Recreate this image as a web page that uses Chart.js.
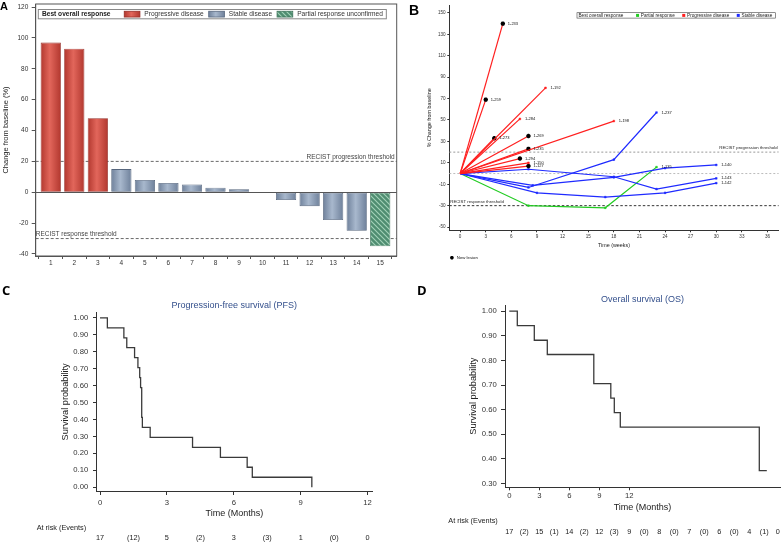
<!DOCTYPE html>
<html>
<head>
<meta charset="utf-8">
<script src="https://cdn.jsdelivr.net/npm/chart.js@4.4.1/dist/chart.umd.min.js"></script>
<style>
    html, body { margin: 0; padding: 0; background: #fff; }
    body { width: 784px; height: 543px; position: relative; overflow: hidden; font-family: "Liberation Sans", Arial, sans-serif; }
    .panel { position: absolute; }
    .tag { position: absolute; font-weight: bold; color: #000; line-height: 1; }
</style>
</head>
<body>
<div class="panel" style="left:0;top:0;width:400px;height:270px"><canvas id="chartA"></canvas></div>
<div class="panel" style="left:400px;top:0;width:384px;height:270px"><canvas id="chartB"></canvas></div>
<div class="panel" style="left:0;top:280px;width:392px;height:263px"><canvas id="chartC"></canvas></div>
<div class="panel" style="left:392px;top:280px;width:392px;height:263px"><canvas id="chartD"></canvas></div>
<div class="tag" style="left:0;top:1px;font-size:11px">A</div>
<div class="tag" style="left:409px;top:3px;font-size:14px">B</div>
<div class="tag" style="left:2px;top:284px;font-size:13px;font-family:'Open Sans',sans-serif">C</div>
<div class="tag" style="left:417px;top:284px;font-size:13px;font-family:'Open Sans',sans-serif">D</div>

<script>
    const FONT = '"Liberation Sans", Arial, sans-serif';

    // A: waterfall, best change from baseline per patient
    const patientA = [1, 2, 3, 4, 5, 6, 7, 8, 9, 10, 11, 12, 13, 14, 15];
    const changeA = [97, 93, 48, 15, 8, 6, 5, 3, 2, 0, -5, -9, -18, -25, -35];
    const responseA = ['PD', 'PD', 'PD', 'SD', 'SD', 'SD', 'SD', 'SD', 'SD', 'SD', 'SD', 'SD', 'SD', 'SD', 'PRu'];
    const yTicksA = [-40, -20, 0, 20, 40, 60, 80, 100, 120];
    const legendKeysA = ['PD', 'SD', 'PRu'];
    const legendNamesA = ['Progressive disease', 'Stable disease', 'Partial response unconfirmed'];
    const thresholdValuesA = [20, -30];
    const thresholdLabelsA = ['RECIST progression threshold', 'RECIST response threshold'];

    // B: spider plot, change over time per patient
    const spiderIds = ['1-233', '1-259', '1-192', '1-284', '1-198', '1-273', '1-269', '1-235', '1-294', '1-150', '1-127',
        '1-237', '1-143', '1-140', '1-142', '1-135'];
    const spiderResp = ['PD', 'PD', 'PD', 'PD', 'PD', 'PD', 'PD', 'PD', 'PD', 'PD', 'PD', 'SD', 'SD', 'SD', 'SD', 'PR'];
    const spiderWeeks = [[0, 5], [0, 3], [0, 10], [0, 7], [0, 18], [0, 4], [0, 8], [0, 8], [0, 7], [0, 8], [0, 8],
        [0, 8, 18, 23], [0, 8, 18, 23, 30], [0, 8.5, 18, 24, 30], [0, 9, 17, 24, 30], [0, 8, 17, 23]];
    const spiderChange = [[0, 140], [0, 69], [0, 80], [0, 51], [0, 49], [0, 33], [0, 35], [0, 23], [0, 14], [0, 10], [0, 7],
        [0, -13, 13, 57], [0, 4, -3, -14.5, -4.5], [0, -11, -3.5, 5, 8], [0, -18, -22, -18, -9], [0, -30, -32, 6]];
    const spiderNewLesion = [true, true, false, false, false, true, true, true, true, false, true, false, false, false, false, false];
    const xTicksB = [0, 3, 6, 9, 12, 15, 18, 21, 24, 27, 30, 33, 36];
    const yTicksB = [-50, -30, -10, 10, 30, 50, 70, 90, 110, 130, 150];
    const legendKeysB = ['PR', 'PD', 'SD'];
    const legendNamesB = ['Partial response', 'Progressive disease', 'Stable disease'];
    const refValuesB = [20, 0, -30];
    const refLabelsB = ['RECIST progression threshold', '', 'RECIST response threshold'];

    // C: progression-free survival
    const pfsTime = [0, 0.33, 1.07, 1.2, 1.55, 1.7, 1.78, 1.82, 1.87, 1.9, 2.25, 4.15, 5.4, 6.6, 6.83, 9.5];
    const pfsSurv = [1, 0.941, 0.882, 0.824, 0.765, 0.706, 0.647, 0.588, 0.412, 0.353, 0.294, 0.235, 0.176, 0.118, 0.059, 0];
    const pfsRiskTimes = [0, 1.5, 3, 4.5, 6, 7.5, 9, 10.5, 12];
    const pfsRisk = ['17', '(12)', '5', '(2)', '3', '(3)', '1', '(0)', '0'];
    const xTicksC = [0, 3, 6, 9, 12];
    const yTicksC = [0, 0.1, 0.2, 0.3, 0.4, 0.5, 0.6, 0.7, 0.8, 0.9, 1];

    // D: overall survival
    const osTime = [0, 0.8, 2.5, 3.8, 8.45, 10.15, 10.5, 11.1, 25.0, 25.75];
    const osSurv = [1, 0.941, 0.882, 0.824, 0.706, 0.647, 0.588, 0.529, 0.353, 0.353];
    const osRiskTimes = [0, 1.5, 3, 4.5, 6, 7.5, 9, 10.5, 12, 13.5, 15, 16.5, 18, 19.5, 21, 22.5, 24, 25.5, 26.85];
    const osRisk = ['17', '(2)', '15', '(1)', '14', '(2)', '12', '(3)', '9', '(0)', '8', '(0)', '7', '(0)', '6', '(0)', '4', '(1)', '0'];
    const xTicksD = [0, 3, 6, 9, 12];
    const yTicksD = [0.3, 0.4, 0.5, 0.6, 0.7, 0.8, 0.9, 1];

    Chart.defaults.font.family = FONT;
    Chart.defaults.color = '#333';
    Chart.defaults.animation = false;
    Chart.defaults.plugins.legend.display = false;
    Chart.defaults.plugins.tooltip.enabled = false;

    function setTicks(arr) {
        return function (scale) { scale.ticks = arr.map(v => ({ value: v })); };
    }

    function hline(ctx, x1, x2, y) {
        ctx.beginPath();
        ctx.moveTo(x1, y);
        ctx.lineTo(x2, y);
        ctx.stroke();
    }

    // ---------- A ----------
    const barShade = { PD: ['#b2382f', '#e2665b', '#962d27'], SD: ['#6f819b', '#a8b8cd', '#56667d'] };
    const hatchBorder = '#3d7259';
    const hatchCanvas = (function () {
        const c = document.createElement('canvas');
        c.width = 5; c.height = 5;
        const g = c.getContext('2d');
        g.fillStyle = '#4f8d71';
        g.fillRect(0, 0, 5, 5);
        g.strokeStyle = '#a3d2b8';
        g.lineWidth = 1.1;
        g.beginPath();
        g.moveTo(0, 0); g.lineTo(5, 5);
        g.moveTo(-1, 4); g.lineTo(1, 6);
        g.moveTo(4, -1); g.lineTo(6, 1);
        g.stroke();
        return c;
    })();

    function responseFill(ctx, r, x, hw) {
        if (r === 'PRu') return ctx.createPattern(hatchCanvas, 'repeat');
        if (!isFinite(x)) return barShade[r][1];
        const g = ctx.createLinearGradient(x - hw, 0, x + hw, 0);
        g.addColorStop(0, barShade[r][0]);
        g.addColorStop(0.45, barShade[r][1]);
        g.addColorStop(1, barShade[r][0]);
        return g;
    }

    const waterfallDecor = {
        id: 'waterfallDecor',
        beforeDatasetsDraw(chart) {
            const { ctx, chartArea: a, scales: { y } } = chart;
            ctx.save();
            ctx.strokeStyle = '#555';
            ctx.lineWidth = 1;
            hline(ctx, a.left, a.right, Math.round(y.getPixelForValue(0)) + 0.5);
            ctx.setLineDash([3, 2]);
            ctx.strokeStyle = '#444';
            ctx.lineWidth = 0.8;
            ctx.font = '6.5px ' + FONT;
            ctx.fillStyle = '#444';
            ctx.textBaseline = 'bottom';
            thresholdValuesA.forEach((v, i) => {
                const py = y.getPixelForValue(v);
                hline(ctx, a.left, a.right, py);
                if (i === 0) {
                    ctx.textAlign = 'right';
                    ctx.fillText(thresholdLabelsA[i], a.right - 2, py - 1);
                } else {
                    ctx.textAlign = 'left';
                    ctx.fillText(thresholdLabelsA[i], a.left, py - 1);
                }
            });
            ctx.restore();
        },
        afterDraw(chart) {
            const { ctx, chartArea: a } = chart;
            ctx.save();
            ctx.strokeStyle = '#555';
            ctx.lineWidth = 1;
            ctx.strokeRect(a.left, a.top, a.right - a.left, a.bottom - a.top);

            // legend box
            const top = a.top + 5.5, h = 9.3, cy = top + h / 2;
            ctx.font = 'bold 6.6px ' + FONT;
            const titleW = ctx.measureText('Best overall response').width;
            ctx.font = '6.6px ' + FONT;
            const widths = legendNamesA.map(n => ctx.measureText(n).width);
            let total = 3.7 + titleW + 13.7;
            widths.forEach((w, i) => { total += 15.7 + 4.4 + w + (i < widths.length - 1 ? 5 : 3.4); });
            const left = a.left + 2.6;
            ctx.fillStyle = '#fff';
            ctx.fillRect(left, top, total, h);
            ctx.strokeStyle = '#888';
            ctx.strokeRect(left, top, total, h);
            ctx.textBaseline = 'middle';
            ctx.textAlign = 'left';
            ctx.fillStyle = '#222';
            ctx.font = 'bold 6.6px ' + FONT;
            let x = left + 3.7;
            ctx.fillText('Best overall response', x, cy + 0.3);
            x += titleW + 13.7;
            ctx.font = '6.6px ' + FONT;
            legendKeysA.forEach((k, i) => {
                ctx.fillStyle = responseFill(ctx, k, x + 7.85, 7.85);
                ctx.fillRect(x, cy - 2.9, 15.7, 5.8);
                ctx.strokeStyle = k === 'PRu' ? hatchBorder : barShade[k][2];
                ctx.lineWidth = 0.8;
                ctx.strokeRect(x, cy - 2.9, 15.7, 5.8);
                x += 15.7 + 4.4;
                ctx.fillStyle = '#333';
                ctx.fillText(legendNamesA[i], x, cy + 0.3);
                x += widths[i] + 5;
            });
            ctx.restore();
        }
    };

    new Chart(document.getElementById('chartA'), {
        type: 'bar',
        data: {
            datasets: [{
                data: patientA.map((p, i) => ({ x: p, y: changeA[i] })),
                backgroundColor: c => {
                    const sx = c.chart.scales.x;
                    const r = responseA[c.dataIndex];
                    const x = sx ? sx.getPixelForValue(patientA[c.dataIndex]) : NaN;
                    return responseFill(c.chart.ctx, r, x, 10);
                },
                borderColor: c => responseA[c.dataIndex] === 'PRu' ? hatchBorder : barShade[responseA[c.dataIndex]][2],
                borderWidth: 0.8,
                borderSkipped: false,
                barPercentage: 0.86,
                categoryPercentage: 1
            }]
        },
        options: {
            responsive: true,
            maintainAspectRatio: false,
            layout: { padding: { left: 0, right: 3.3, top: 4, bottom: 0 } },
            scales: {
                x: {
                    type: 'linear',
                    min: 0.36,
                    max: 15.7,
                    offset: false,
                    afterBuildTicks: setTicks(patientA),
                    afterFit: s => { s.height = 14; },
                    grid: { drawOnChartArea: false, tickLength: 3, color: '#555' },
                    border: { color: '#555' },
                    ticks: { font: { size: 6.5 }, padding: 0.5, color: '#333' }
                },
                y: {
                    min: -41.3,
                    max: 122,
                    afterBuildTicks: setTicks(yTicksA),
                    afterFit: s => { s.width = 35.7; s.paddingTop = 0; s.paddingBottom = 0; },
                    grid: { drawOnChartArea: false, tickLength: 4, color: '#555' },
                    border: { color: '#555' },
                    ticks: { font: { size: 6.5 }, padding: 3.4, color: '#333' },
                    title: { display: true, text: 'Change from baseline (%)', font: { size: 7.5 }, color: '#222', padding: { top: 1.5, bottom: 0 } }
                }
            }
        },
        plugins: [waterfallDecor]
    });

    // ---------- B ----------
    const spiderColour = { PD: '#ff1f1f', SD: '#1f2bff', PR: '#22cc22' };

    function drawStar(ctx, x, y, r) {
        ctx.beginPath();
        for (let k = 0; k < 4; k++) {
            const ang = k * Math.PI / 4;
            const dx = Math.cos(ang) * r, dy = Math.sin(ang) * r;
            ctx.moveTo(x - dx, y - dy);
            ctx.lineTo(x + dx, y + dy);
        }
        ctx.stroke();
    }

    const spiderDecor = {
        id: 'spiderDecor',
        beforeDatasetsDraw(chart) {
            const { ctx, chartArea: a, scales: { y } } = chart;
            ctx.save();
            ctx.font = '4.3px ' + FONT;
            ctx.textBaseline = 'bottom';
            refValuesB.forEach((v, i) => {
                const py = y.getPixelForValue(v);
                if (v === -30) { ctx.setLineDash([2.5, 2]); ctx.strokeStyle = '#333'; }
                else { ctx.setLineDash([2, 2]); ctx.strokeStyle = v === 0 ? '#bbb' : '#999'; }
                ctx.lineWidth = 1;
                hline(ctx, a.left, a.right, py);
                if (refLabelsB[i]) {
                    ctx.fillStyle = '#222';
                    if (v > 0) { ctx.textAlign = 'right'; ctx.fillText(refLabelsB[i], a.right - 1, py - 2); }
                    else { ctx.textAlign = 'left'; ctx.fillText(refLabelsB[i], a.left + 1, py - 2); }
                }
            });
            ctx.restore();
        },
        afterDatasetsDraw(chart) {
            const { ctx, chartArea: a } = chart;
            ctx.save();
            ctx.font = '4px ' + FONT;
            ctx.fillStyle = '#111';
            ctx.textAlign = 'left';
            ctx.textBaseline = 'middle';
            chart.data.datasets.forEach((ds, i) => {
                const pts = chart.getDatasetMeta(i).data;
                const p = pts[pts.length - 1];
                ctx.fillText(spiderIds[i], p.x + 5, p.y);
            });

            // legend box, top right
            ctx.font = '4.7px ' + FONT;
            const titleW = ctx.measureText('Best overall response').width;
            const widths = legendNamesB.map(n => ctx.measureText(n).width);
            let total = 1.4 + titleW + 12.6;
            widths.forEach((w, i) => { total += 3 + 1.8 + w + (i < widths.length - 1 ? 7.5 : 3.3); });
            const top = a.top + 7.3, h = 5.4, cy = top + h / 2;
            const left = a.right - 3 - total;
            ctx.fillStyle = '#fff';
            ctx.fillRect(left, top, total, h);
            ctx.strokeStyle = '#444';
            ctx.lineWidth = 0.6;
            ctx.strokeRect(left, top, total, h);
            ctx.fillStyle = '#222';
            let x = left + 1.4;
            ctx.fillText('Best overall response', x, cy + 0.2);
            x += titleW + 12.6;
            legendKeysB.forEach((k, i) => {
                ctx.fillStyle = spiderColour[k];
                ctx.fillRect(x, cy - 1.5, 3, 3);
                x += 4.8;
                ctx.fillStyle = '#222';
                ctx.fillText(legendNamesB[i], x, cy + 0.2);
                x += widths[i] + 7.5;
            });

            // new lesion note under the axis
            const ny = a.bottom + 27.4;
            ctx.strokeStyle = '#000';
            ctx.lineWidth = 1.2;
            drawStar(ctx, a.left + 2.6, ny, 1.8);
            ctx.fillStyle = '#111';
            ctx.font = '4.3px ' + FONT;
            ctx.fillText('New lesion', a.left + 7.5, ny + 0.2);
            ctx.restore();
        }
    };

    new Chart(document.getElementById('chartB'), {
        type: 'line',
        data: {
            datasets: spiderIds.map((id, i) => {
                const n = spiderWeeks[i].length;
                const col = spiderColour[spiderResp[i]];
                return {
                    label: id,
                    data: spiderWeeks[i].map((w, j) => ({ x: w, y: spiderChange[i][j] })),
                    borderColor: col,
                    borderWidth: 1.2,
                    pointRadius: spiderWeeks[i].map((w, j) => j === 0 ? 0 : (j === n - 1 && spiderNewLesion[i] ? 2.2 : 1.2)),
                    pointStyle: spiderWeeks[i].map((w, j) => j === n - 1 && spiderNewLesion[i] ? 'star' : 'rect'),
                    pointBackgroundColor: spiderWeeks[i].map((w, j) => j === n - 1 && spiderNewLesion[i] ? '#000' : col),
                    pointBorderColor: spiderWeeks[i].map((w, j) => j === n - 1 && spiderNewLesion[i] ? '#000' : col),
                    pointBorderWidth: spiderWeeks[i].map((w, j) => j === n - 1 && spiderNewLesion[i] ? 1.4 : 0.5),
                    tension: 0,
                    fill: false
                };
            })
        },
        options: {
            responsive: true,
            maintainAspectRatio: false,
            layout: { padding: { left: 0, right: 1, top: 1.4, bottom: 21.7 } },
            scales: {
                x: {
                    type: 'linear',
                    min: -1.27,
                    max: 37.3,
                    afterBuildTicks: setTicks(xTicksB),
                    afterFit: s => { s.height = 18; },
                    grid: { drawOnChartArea: false, tickLength: 2, color: '#333' },
                    border: { color: '#333' },
                    ticks: { font: { size: 4.6 }, padding: 1.4, color: '#333' },
                    title: { display: true, text: 'Time (weeks)', font: { size: 5.4 }, color: '#222', padding: 0 }
                },
                y: {
                    min: -53,
                    max: 157,
                    afterBuildTicks: setTicks(yTicksB),
                    afterFit: s => { s.width = 49.3; },
                    grid: { drawOnChartArea: false, tickLength: 2, color: '#333' },
                    border: { color: '#333' },
                    ticks: { font: { size: 4.6 }, padding: 1.7, color: '#333' },
                    title: { display: true, text: '% Change from baseline', font: { size: 5.4 }, color: '#222', padding: { top: 26.75, bottom: 0 } }
                }
            }
        },
        plugins: [spiderDecor]
    });

    // ---------- C and D ----------
    const atRisk = {
        id: 'atRisk',
        afterDraw(chart, args, o) {
            const { ctx, scales: { x } } = chart;
            ctx.save();
            ctx.font = '7.3px ' + FONT;
            ctx.fillStyle = '#222';
            ctx.textBaseline = 'middle';
            ctx.textAlign = 'left';
            ctx.fillText('At risk (Events)', o.labelX, o.labelY);
            ctx.textAlign = 'center';
            o.times.forEach((t, i) => ctx.fillText(o.labels[i], x.getPixelForValue(t), o.rowY));
            ctx.restore();
        }
    };

    function kmConfig(times, surv, k) {
        return {
            type: 'line',
            data: {
                datasets: [{
                    data: times.map((t, i) => ({ x: t, y: surv[i] })),
                    stepped: true,
                    borderColor: '#3a3a3a',
                    borderWidth: 1.3,
                    pointRadius: 0,
                    fill: false
                }]
            },
            options: {
                responsive: true,
                maintainAspectRatio: false,
                layout: { padding: { left: 0, right: k.padRight, top: 0, bottom: k.padBottom } },
                plugins: {
                    title: {
                        display: true, text: k.title, fullSize: false, color: '#34508c',
                        font: { size: 9, weight: 'normal' }, padding: { top: k.titleTop, bottom: k.titleBottom }
                    },
                    atRisk: { times: k.riskTimes, labels: k.risk, labelX: k.riskLabelX, labelY: k.riskLabelY, rowY: k.riskRowY }
                },
                scales: {
                    x: {
                        type: 'linear',
                        min: k.xMin,
                        max: k.xMax,
                        afterBuildTicks: setTicks(k.xTicks),
                        afterFit: s => { s.height = k.xHeight; },
                        grid: { drawOnChartArea: false, tickLength: k.xTickLen, color: '#333' },
                        border: { color: '#333' },
                        ticks: { font: { size: 7.7 }, padding: k.xPad, color: '#333' },
                        title: { display: true, text: 'Time (Months)', font: { size: 9 }, color: '#222', padding: 0 }
                    },
                    y: {
                        min: k.yMin,
                        max: k.yMax,
                        afterBuildTicks: setTicks(k.yTicks),
                        afterFit: s => { s.width = k.yWidth; },
                        grid: { drawOnChartArea: false, tickLength: k.yTickLen, color: '#333' },
                        border: { color: '#333' },
                        ticks: { font: { size: 7.7 }, padding: k.yPad, color: '#333', callback: v => v.toFixed(2) },
                        title: { display: true, text: 'Survival probability', font: { size: 9.2 }, color: '#222', padding: { top: k.yTitlePad, bottom: 0 } }
                    }
                }
            },
            plugins: [atRisk]
        };
    }

    new Chart(document.getElementById('chartC'), kmConfig(pfsTime, pfsSurv, {
        title: 'Progression-free survival (PFS)',
        padRight: 19.3, padBottom: 23.6, titleTop: 20.6, titleBottom: 1.3,
        xMin: -0.18, xMax: 12.23, xTicks: xTicksC, xHeight: 28.4, xTickLen: 4, xPad: 3,
        yMin: -0.022, yMax: 1.03, yTicks: yTicksC, yWidth: 96, yTickLen: 3, yPad: 4.7, yTitlePad: 59.6,
        riskTimes: pfsRiskTimes, risk: pfsRisk, riskLabelX: 36.7, riskLabelY: 248, riskRowY: 258
    }));

    new Chart(document.getElementById('chartD'), kmConfig(osTime, osSurv, {
        title: 'Overall survival (OS)',
        padRight: 4, padBottom: 30.3, titleTop: 13.9, titleBottom: 0.3,
        xMin: -0.43, xMax: 27.07, xTicks: xTicksD, xHeight: 25.4, xTickLen: 3, xPad: 1,
        yMin: 0.285, yMax: 1.025, yTicks: yTicksD, yWidth: 113, yTickLen: 4, yPad: 4.3, yTitlePad: 75.9,
        riskTimes: osRiskTimes, risk: osRisk, riskLabelX: 56.3, riskLabelY: 240.7, riskRowY: 251.7
    }));
</script>
</body>
</html>
